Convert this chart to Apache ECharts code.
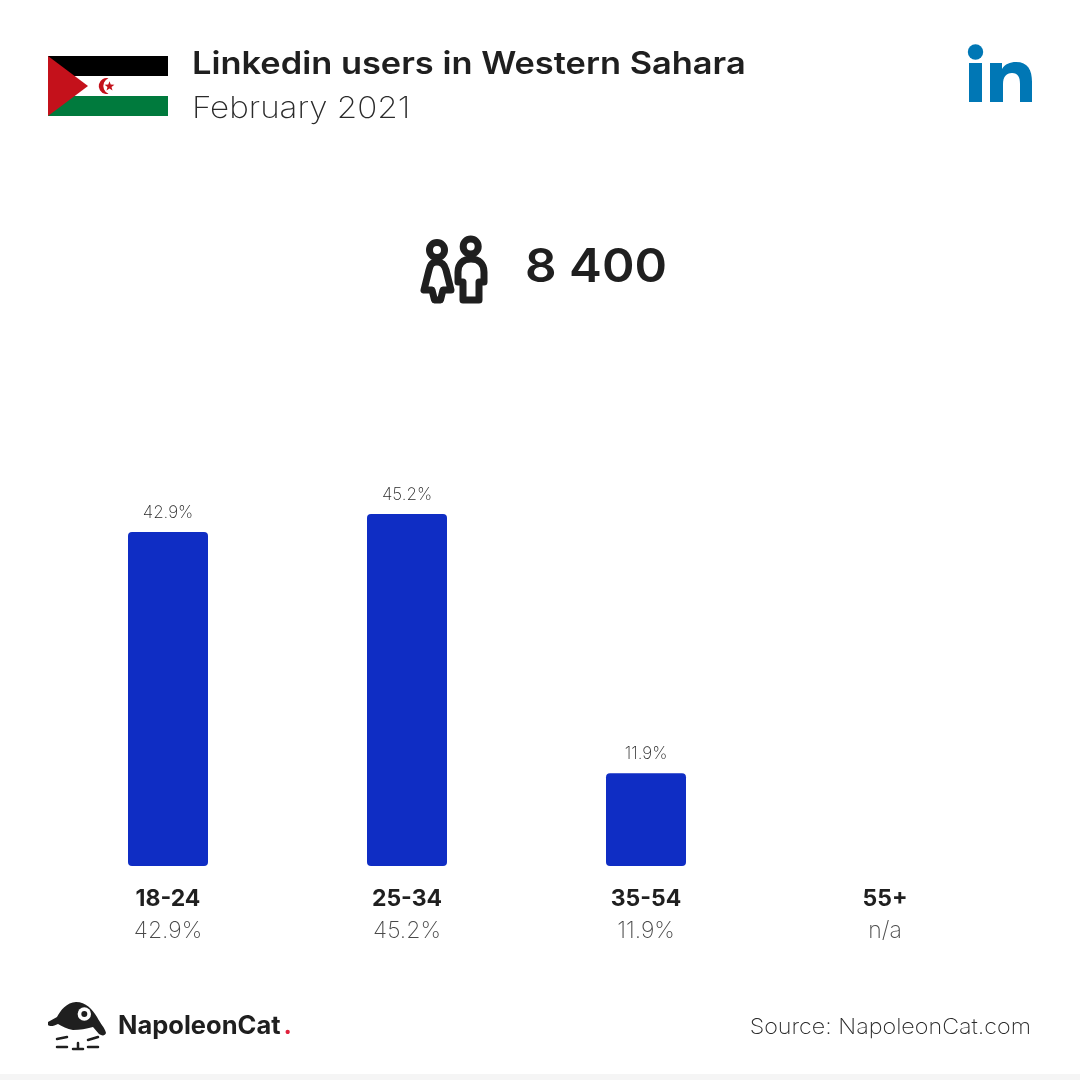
<!DOCTYPE html>
<html><head><meta charset="utf-8">
<style>html,body{margin:0;padding:0;background:#fff}#c{width:1080px;height:1080px}</style>
<script src="https://cdn.jsdelivr.net/npm/echarts@6/dist/echarts.min.js"></script>
</head><body><div id="c"></div>
<script>
const categories = ['18-24','25-34','35-54','55+'];
const shares = [42.9,45.2,11.9,null];
const titleText = 'Linkedin users in Western Sahara';
const subtitleText = 'February 2021';
const totalUsers = '8 400';
const sourceText = 'Source: NapoleonCat.com';
const F = 'Inter, "Noto Sans", sans-serif';
const INK = '#1f1f1f';
const chart = echarts.init(document.getElementById('c'), null, {renderer:'canvas'});
const fmt = v => v == null ? 'n/a' : v.toFixed(1) + '%';
let pathId = 0;
const pathType = d => { const n = 'p' + (pathId++); echarts.graphic.registerShape(n, echarts.graphic.extendPath(d, {})); return n; };
const stroke = (d, w) => ({type:pathType(d), silent:true, style:{fill:null, stroke:INK, lineWidth:w, lineJoin:'round', lineCap:'round'}});
const fill = (d, c) => ({type:pathType(d), silent:true, style:{fill:c}});
const label = (x, y, text, size, weight, color, sx, align) => ({type:'text', silent:true, x:x, y:y, scaleX:sx||1,
  style:{x:0,y:0,text:text,fontFamily:F,fontSize:size,fontWeight:weight,fill:color,textAlign:align||'left',textVerticalAlign:'middle'}});
chart.setOption({
  animation:false,
  backgroundColor:'#fff',
  grid:{left:48.5, width:956, top:476.7, height:389.3, containLabel:false},
  xAxis:{type:'category', data:categories, axisLine:{show:false}, axisTick:{show:false}, splitLine:{show:false},
    axisLabel:{margin:17, interval:0,
      formatter:(v,i)=>`{a|${v}}\n{b|${fmt(shares[i])}}`,
      rich:{a:{fontFamily:F,fontSize:23,fontWeight:700,color:INK,lineHeight:32,align:'center'},
            b:{fontFamily:F,fontSize:23,fontWeight:200,color:'#4a4a4a',lineHeight:32,align:'center'}}}},
  yAxis:{type:'value', min:0, max:50, show:false, splitLine:{show:false}},
  series:[{type:'bar', data:shares, barWidth:80, itemStyle:{color:'#0f2dc4', borderRadius:[4,4,4,4]},
    label:{show:true, position:'top', distance:11, formatter:p=>fmt(p.value), fontFamily:F, fontSize:17, fontWeight:200, color:'#2a2a2a'}}],
  graphic:{elements:[
    label(192,65,titleText,31,600,INK,1.11),
    label(192,109,subtitleText,30,200,'#2a2a2a',1.105),
    {type:'rect', silent:true, shape:{x:48,y:56,width:120,height:20}, style:{fill:'#000'}},
    {type:'rect', silent:true, shape:{x:48,y:96,width:120,height:20}, style:{fill:'#007a3d'}},
    fill('M48 56L88 86L48 116Z','#c4111b'),
    fill('M108.5 78.2A8 8 0 1 0 108.5 93.8A8.5 8.5 0 0 1 108.5 78.2Z','#c4111b'),
    fill('M109.5 81.2L110.7 84.6L114.4 84.7L111.5 86.9L112.5 90.4L109.5 88.4L106.5 90.4L107.5 86.9L104.6 84.7L108.3 84.6Z','#c4111b'),
    {type:'circle', silent:true, shape:{cx:975.5,cy:52,r:7.7}, style:{fill:'#0077b5'}},
    {type:'rect', silent:true, shape:{x:969,y:63,width:13,height:39}, style:{fill:'#0077b5'}},
    fill('M990 63H1002V69C1005 64 1010 62 1016 62C1028 62 1032 70 1032 82V102H1020V84C1020 77 1018 73 1012 73C1006 73 1003 77 1003 84V102H990Z','#0077b5'),
    {type:'circle', silent:true, shape:{cx:437,cy:250,r:7.5}, style:{fill:null,stroke:INK,lineWidth:7}},
    {type:'circle', silent:true, shape:{cx:470.7,cy:246.5,r:7.5}, style:{fill:null,stroke:INK,lineWidth:7}},
    stroke('M437 262C431 262 430 266 429 270L424 290H432L434.5 300H440.5L443 290H451L446 270C445 266 443 262 437 262Z',7),
    stroke('M463 300V282H458V272C458 264 463 259 471 259C479 259 484 264 484 272V282H479V300Z',7),
    label(525,268,totalUsers,47,600,INK,1.05),
    fill('M48 1022L57 1017C60 1011 67 1002 76 1002C86 1002 92 1009 97 1017C100 1023 105 1028 106 1033C105 1036 102 1036 99 1034L93 1027C86 1029 80 1030 73 1030C67 1029 62 1026 58 1024C54 1026 50 1027 48 1025Z',INK),
    {type:'circle', silent:true, shape:{cx:84.3,cy:1014,r:6.7}, style:{fill:'#fff'}},
    {type:'circle', silent:true, shape:{cx:84.3,cy:1014,r:3}, style:{fill:INK}},
    stroke('M57 1039L67 1037M57 1047L67 1047M88 1040L98 1037M88 1047L98 1047M78 1043V1049M73 1049H83',2.5),
    label(118,1026,'NapoleonCat',25,700,INK,1.02),
    label(283.5,1026,'.',25,700,'#e0213c'),
    label(1031,1027,sourceText,22,200,'#2a2a2a',1.06,'right'),
    {type:'rect', silent:true, shape:{x:0,y:1074,width:1080,height:6}, style:{fill:'#f5f5f5'}}
  ]}
});
</script></body></html>
